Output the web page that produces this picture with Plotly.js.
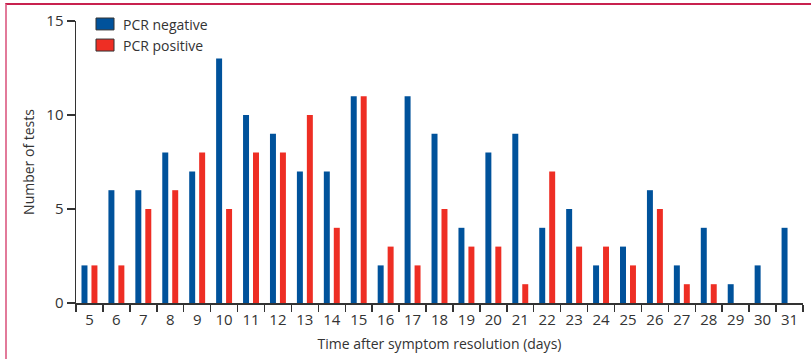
<!DOCTYPE html>
<html>
<head>
<meta charset="utf-8">
<script src="https://cdn.plot.ly/plotly-3.0.1.min.js"></script>
<style>
  html, body { margin: 0; padding: 0; background: #fff; }
  #chart { width: 811px; height: 359px; }
  #frame { position: absolute; left: 5px; top: 3px; width: 820px; height: 400px;
           border-top: 2px solid #c8214f; border-left: 2px solid #e27a9a; pointer-events: none; }
</style>
</head>
<body>
<div id="chart"></div>
<div id="frame"></div>
<script>
const days = ['5','6','7','8','9','10','11','12','13','14','15','16','17','18','19','20','21','22','23','24','25','26','27','28','29','30','31'];
const pcrNegative = [2,6,6,8,7,13,10,9,7,7,11,2,11,9,4,8,9,4,5,2,3,6,2,4,1,2,4];
const pcrPositive = [2,2,5,6,8,5,8,8,10,4,11,3,2,5,3,3,1,7,3,3,2,5,1,1,0,0,0];
const seriesNames = ['PCR negative', 'PCR positive'];
const blue = '#00529b';
const red = '#ee2e24';
const textColor = '#333333';
const fontFamily = '"Open Sans", "Noto Sans", sans-serif';

const traces = [
  { type: 'bar', x: days, y: pcrNegative, name: seriesNames[0], marker: { color: blue }, showlegend: false },
  { type: 'bar', x: days, y: pcrPositive, name: seriesNames[1], marker: { color: red }, showlegend: false }
];

const layout = {
  width: 811, height: 359,
  margin: { l: 76, r: 8, t: 21, b: 56 },
  paper_bgcolor: '#ffffff', plot_bgcolor: '#ffffff',
  font: { family: fontFamily, size: 14, color: textColor },
  barmode: 'group', bargap: 0.26, bargroupgap: 0.4,
  showlegend: false,
  xaxis: {
    type: 'category', tickson: 'boundaries', tickangle: 0,
    ticks: 'outside', ticklen: 7, tickwidth: 1.5, tickcolor: '#333',
    showline: true, linecolor: '#333', linewidth: 1.5,
    showgrid: false, zeroline: false,
    ticklabelstandoff: 2,
    tickfont: { size: 15, color: textColor },
    title: { text: 'Time after symptom resolution (days)', font: { size: 14, color: textColor }, standoff: 11 }
  },
  yaxis: {
    range: [0, 15], tickvals: [0, 5, 10, 15],
    ticks: 'outside', ticklen: 8, tickwidth: 1.5, tickcolor: '#333',
    showline: true, linecolor: '#333', linewidth: 1.5,
    showgrid: false, zeroline: false,
    tickfont: { size: 15, color: textColor },
    title: { text: 'Number of tests', font: { size: 14, color: textColor }, standoff: 8 }
  },
  shapes: [
    { type: 'rect', xref: 'paper', yref: 'paper', x0: 0.0275, x1: 0.0523, y0: 0.9684, y1: 1.0106,
      fillcolor: blue, line: { color: '#333', width: 1 } },
    { type: 'rect', xref: 'paper', yref: 'paper', x0: 0.0275, x1: 0.0523, y0: 0.8935, y1: 0.936,
      fillcolor: red, line: { color: '#333', width: 1 } }
  ],
  annotations: [
    { xref: 'paper', yref: 'paper', x: 0.0619, y: 0.989, xanchor: 'left', yanchor: 'middle',
      text: seriesNames[0], showarrow: false, font: { size: 14, color: textColor } },
    { xref: 'paper', yref: 'paper', x: 0.0619, y: 0.9148, xanchor: 'left', yanchor: 'middle',
      text: seriesNames[1], showarrow: false, font: { size: 14, color: textColor } }
  ]
};

Plotly.newPlot('chart', traces, layout, { displayModeBar: false, staticPlot: true });
</script>
</body>
</html>
